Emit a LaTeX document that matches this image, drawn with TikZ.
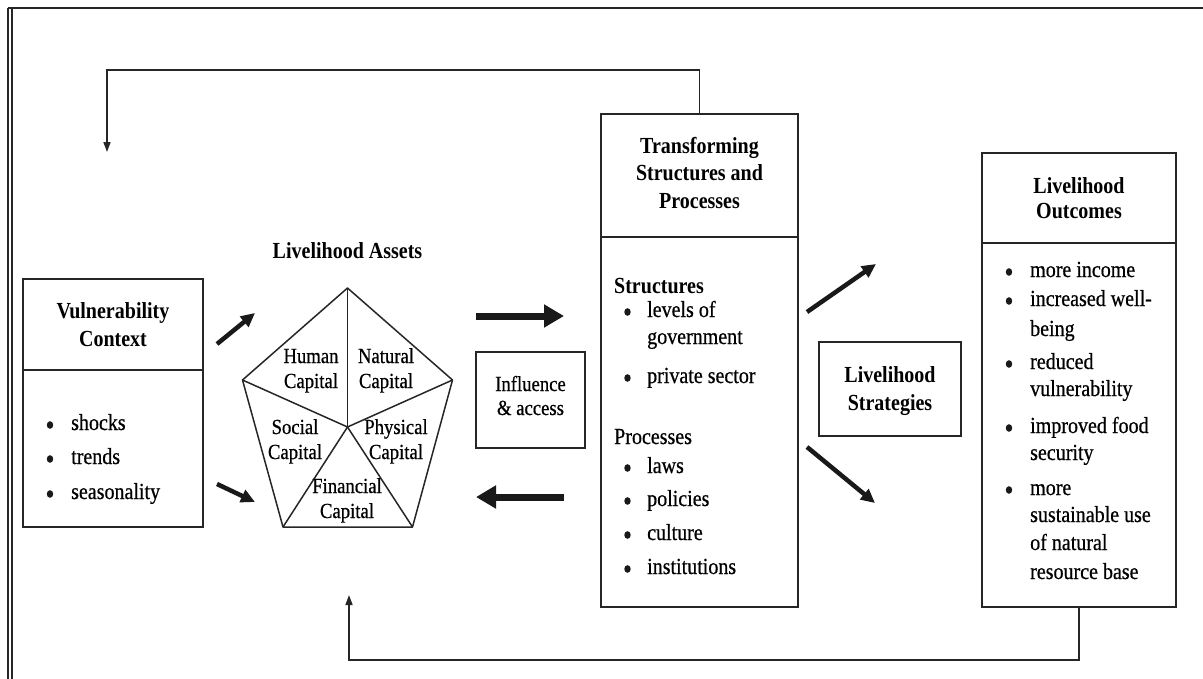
\documentclass[tikz,border=0pt]{standalone}
\usepackage{fontspec}
\setmainfont{Liberation Serif}[FakeStretch=0.87]
\newfontfamily\inkfont{Liberation Serif}[FakeStretch=0.87,FakeBold=0.6]
\usetikzlibrary{arrows.meta}

\tikzset{
  panel/.style={draw=black!85, line width=1.8pt, inner sep=0pt},
  rule/.style={draw=black!85, line width=1.8pt},
  penta/.style={draw=black!85, line width=1.5pt, line join=round},
  head/.style={font=\fontsize{23}{28}\selectfont\bfseries, anchor=base, inner sep=0pt},
  entry/.style={font=\inkfont\fontsize{23}{28}\selectfont, anchor=base west, inner sep=0pt},
  entryb/.style={font=\fontsize{23}{28}\selectfont\bfseries, anchor=base west, inner sep=0pt},
  small/.style={font=\inkfont\fontsize{21.5}{24}\selectfont, anchor=base, inner sep=0pt},
  bigflow/.style={draw=black!90, line width=7pt, -{Triangle[length=20pt,width=22pt]}},
  tilt/.style={draw=black!90, line width=4.5pt, -{Triangle[length=14pt,width=13pt]}},
  feedback/.style={draw=black!85, line width=1.6pt, -{Triangle[length=10pt,width=7pt]}},
  bul/.style={fill=black!90},
}

\begin{document}
\begin{tikzpicture}[x=1pt,y=-1pt]
\useasboundingbox (0,0) rectangle (1203,678);

% outer frame (runs past the page on the right and bottom)
\draw[draw=black!85, line width=2pt] (8,8) -- (1230,8);
\draw[draw=black!85, line width=1.4pt] (8,8) -- (8,700);
\draw[draw=black!85, line width=1.2pt] (12,8) -- (12,700);

% ---------------- boxes ----------------
\node[panel, minimum width=180pt, minimum height=248pt] (vul) at (113,403) {};
\node[panel, minimum width=109pt, minimum height=96pt] (infl) at (530.5,400) {};
\node[panel, minimum width=197pt, minimum height=493pt] (tsp) at (699.5,360.5) {};
\node[panel, minimum width=142pt, minimum height=94pt] (strat) at (890,389) {};
\node[panel, minimum width=194pt, minimum height=454pt] (out) at (1079,380) {};

\draw[rule] (vul.west |- 0,370) -- (vul.east |- 0,370);
\draw[rule] (tsp.west |- 0,237) -- (tsp.east |- 0,237);
\draw[rule] (out.west |- 0,243) -- (out.east |- 0,243);

% ---------------- vulnerability context ----------------
\node[head] (vulA) at (113,318) {Vulnerability};
\node[head] (vulB) at (113,346) {Context};
\node[entry] (vul1) at (71,430) {shocks};
\node[entry] (vul2) at (71,464) {trends};
\node[entry] (vul3) at (71,499) {seasonality};
\foreach \yy in {425,459,494} \fill[bul] (50,\yy) ellipse (3.2pt and 3.8pt);

% ---------------- asset pentagon ----------------
\node[head] (assets) at (347.5,258) {Livelihood Assets};
\coordinate (pT) at (347.5,288);
\coordinate (pR) at (452.5,380);
\coordinate (pBR) at (412.5,527);
\coordinate (pBL) at (283,527);
\coordinate (pL) at (242.5,380);
\coordinate (pC) at (347.5,427);
\draw[penta] (pT) -- (pR) -- (pBR) -- (pBL) -- (pL) -- cycle;
\foreach \v in {pT,pR,pBR,pBL,pL} \draw[penta] (pC) -- (\v);

\node[small] (hum1) at (311,363) {Human};
\node[small] (hum2) at (311,388) {Capital};
\node[small] (nat1) at (386,363) {Natural};
\node[small] (nat2) at (386,388) {Capital};
\node[small] (soc1) at (295,434) {Social};
\node[small] (soc2) at (295,459) {Capital};
\node[small] (phy1) at (396,434) {Physical};
\node[small] (phy2) at (396,459) {Capital};
\node[small] (fin1) at (347,493) {Financial};
\node[small] (fin2) at (347,518) {Capital};

% ---------------- influence & access ----------------
\node[small] (inf1) at (530.5,391) {Influence};
\node[small] (inf2) at (530.5,415) {\& access};

% ---------------- transforming structures ----------------
\node[head] (tsA) at (699.5,153) {Transforming};
\node[head] (tsB) at (699.5,180) {Structures and};
\node[head] (tsC) at (699.5,208) {Processes};
\node[entryb] (str) at (614,293) {Structures};
\node[entry] (str1) at (647,317) {levels of};
\node[entry] (str2) at (647,344) {government};
\node[entry] (str3) at (647,383) {private sector};
\node[entry] (prc) at (614,444) {Processes};
\node[entry] (prc1) at (647,473) {laws};
\node[entry] (prc2) at (647,506) {policies};
\node[entry] (prc3) at (647,540) {culture};
\node[entry] (prc4) at (647,574) {institutions};
\foreach \yy in {312,378,468,501,535,569} \fill[bul] (627.5,\yy) ellipse (3.2pt and 3.8pt);

% ---------------- strategies ----------------
\node[head] (stA) at (890,382) {Livelihood};
\node[head] (stB) at (890,410) {Strategies};

% ---------------- outcomes ----------------
\node[head] (ouA) at (1079,193) {Livelihood};
\node[head] (ouB) at (1079,218) {Outcomes};
\node[entry] (ou1) at (1030,277) {more income};
\node[entry] (ou2) at (1030,306) {increased well-};
\node[entry] (ou2b) at (1030,336) {being};
\node[entry] (ou3) at (1030,369) {reduced};
\node[entry] (ou3b) at (1030,396) {vulnerability};
\node[entry] (ou4) at (1030,433) {improved food};
\node[entry] (ou4b) at (1030,460) {security};
\node[entry] (ou5) at (1030,495) {more};
\node[entry] (ou5b) at (1030,522) {sustainable use};
\node[entry] (ou5c) at (1030,550) {of natural};
\node[entry] (ou5d) at (1030,579) {resource base};
\foreach \yy in {272,301,364,428,490} \fill[bul] (1009,\yy) ellipse (3.2pt and 3.8pt);

% ---------------- arrows ----------------
\coordinate (a1s) at (217,344);  \coordinate (a1e) at (255,313);
\coordinate (a2s) at (217,484);  \coordinate (a2e) at (255,502);
\coordinate (a3s) at (476,316);  \coordinate (a3e) at (564,316);
\coordinate (a4s) at (564,497);  \coordinate (a4e) at (476,497);
\coordinate (a5s) at (807,312);  \coordinate (a5e) at (876,264);
\coordinate (a6s) at (807,447);  \coordinate (a6e) at (875,503);
\draw[tilt] (a1s) -- (a1e);
\draw[tilt] (a2s) -- (a2e);
\draw[bigflow] (a3s) -- (a3e);
\draw[bigflow] (a4s) -- (a4e);
\draw[tilt] (a5s) -- (a5e);
\draw[tilt] (a6s) -- (a6e);

% feedback loops
\coordinate (fbTop) at (107,152);
\coordinate (fbBot) at (349,595);
\draw[feedback] (tsp.north) -- ++(0,-43) -| (fbTop);
\draw[feedback] (out.south) -- ++(0,52) -| (fbBot);
\end{tikzpicture}
\end{document}
